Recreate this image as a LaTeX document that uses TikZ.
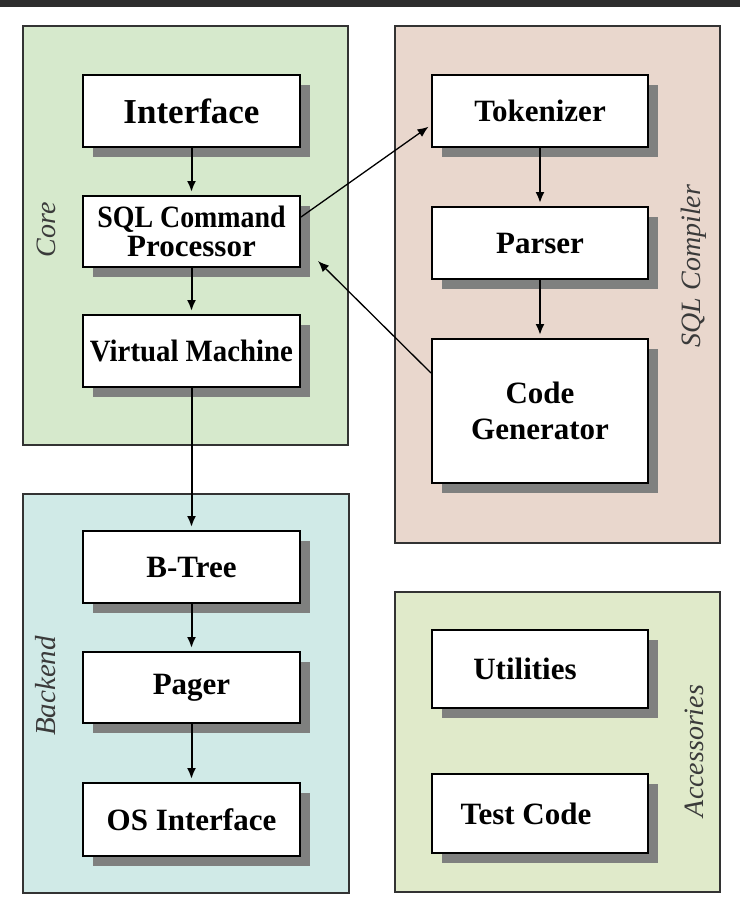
\documentclass[tikz,border=0pt]{standalone}
\usepackage{fontspec}
\usepackage{graphicx}
\setmainfont{Liberation Serif}
\usetikzlibrary{shadows,arrows.meta,calc}
\definecolor{coregreen}{HTML}{D6E9CC}
\definecolor{compilerpink}{HTML}{E9D7CD}
\definecolor{backendcyan}{HTML}{D0EAE7}
\definecolor{accessgreen}{HTML}{E0EACA}
\definecolor{frameline}{HTML}{333333}
\definecolor{shadowgray}{HTML}{7F807F}
\definecolor{topbar}{HTML}{2E2E2E}
\definecolor{labelgray}{HTML}{3A3A3A}
\tikzset{
  layer/.style={draw=frameline, line width=2pt},
  module/.style={draw=black, fill=white, line width=2pt, inner sep=0pt,
    minimum width=217pt, align=center,
    font=\fontsize{31}{29}\selectfont\bfseries,
    drop shadow={shadow xshift=10pt, shadow yshift=-10pt, fill=shadowgray, opacity=1}},
  layername/.style={rotate=90, text=labelgray, font=\fontsize{28}{30}\selectfont\itshape},
  flow/.style={line width=2pt, -{Latex[length=11pt,width=9pt]}, shorten >=3pt},
  crossflow/.style={flow, line width=1.3pt},
}
\begin{document}
\begin{tikzpicture}[x=1pt, y=-1pt]
  \useasboundingbox (0,0) rectangle (740,910);
  \fill[white] (0,0) rectangle (740,910);
  \fill[topbar] (0,0) rectangle (740,7);

  % layer frames
  \draw[layer, fill=coregreen] (23,26) rectangle (348,445);
  \draw[layer, fill=compilerpink] (395,26) rectangle (720,543);
  \draw[layer, fill=backendcyan] (23,494) rectangle (349,893);
  \draw[layer, fill=accessgreen] (395,592) rectangle (720,892);

  % layer names
  \node[layername] (ncore) at (46,230) {Core};
  \node[layername, font=\fontsize{29}{30}\selectfont\itshape] (nback) at (46,686) {Backend};
  \node[layername] (ncomp) at (694,266) {SQL Compiler};
  \node[layername] (nacc) at (694,751) {Accessories};

  % core modules
  \node[module, minimum height=72pt, font=\fontsize{35}{31}\selectfont\bfseries] (iface) at (191.5,111) {Interface};
  \node[module, minimum height=71pt] (sqlcp) at (191.5,231.5) {\scalebox{0.9}[1]{SQL Command}\\Processor};
  \node[module, minimum height=72pt] (vm) at (191.5,351) {\scalebox{0.93}[1]{Virtual Machine}};

  % compiler modules
  \node[module, minimum width=216pt, minimum height=72pt] (tok) at (540,111) {Tokenizer};
  \node[module, minimum width=216pt, minimum height=72pt] (parser) at (540,243) {Parser};
  \node[module, minimum width=216pt, minimum height=144pt,
        font=\fontsize{31}{36}\selectfont\bfseries] (codegen) at (540,411) {Code\\Generator};

  % backend modules
  \node[module, minimum height=72pt] (btree) at (191.5,567) {B-Tree};
  \node[module, minimum height=71pt] (pager) at (191.5,687.5) {Pager};
  \node[module, minimum height=73pt] (osif) at (191.5,819.5) {OS Interface};

  % accessories
  \node[module, minimum width=216pt, minimum height=78pt] (util) at (540,669) {\hspace*{-30pt}Utilities};
  \node[module, minimum width=216pt, minimum height=79pt] (test) at (540,813.5) {\hspace*{-28pt}Test Code};

  % connectors
  \draw[flow] (iface.south) -- (sqlcp.north);
  \draw[flow] (sqlcp.south) -- (vm.north);
  \draw[flow] (vm.south) -- (btree.north);
  \draw[flow] (btree.south) -- (pager.north);
  \draw[flow] (pager.south) -- (osif.north);
  \draw[flow] (tok.south) -- (parser.north);
  \draw[flow] (parser.south) -- (codegen.north);
  \draw[crossflow] ([yshift=14.5pt]sqlcp.east) -- ([yshift=-14pt]tok.west);
  \draw[crossflow, shorten >=0pt] ([yshift=38pt]codegen.west) -- ([xshift=17pt,yshift=7pt]sqlcp.south east);
\end{tikzpicture}
\end{document}
